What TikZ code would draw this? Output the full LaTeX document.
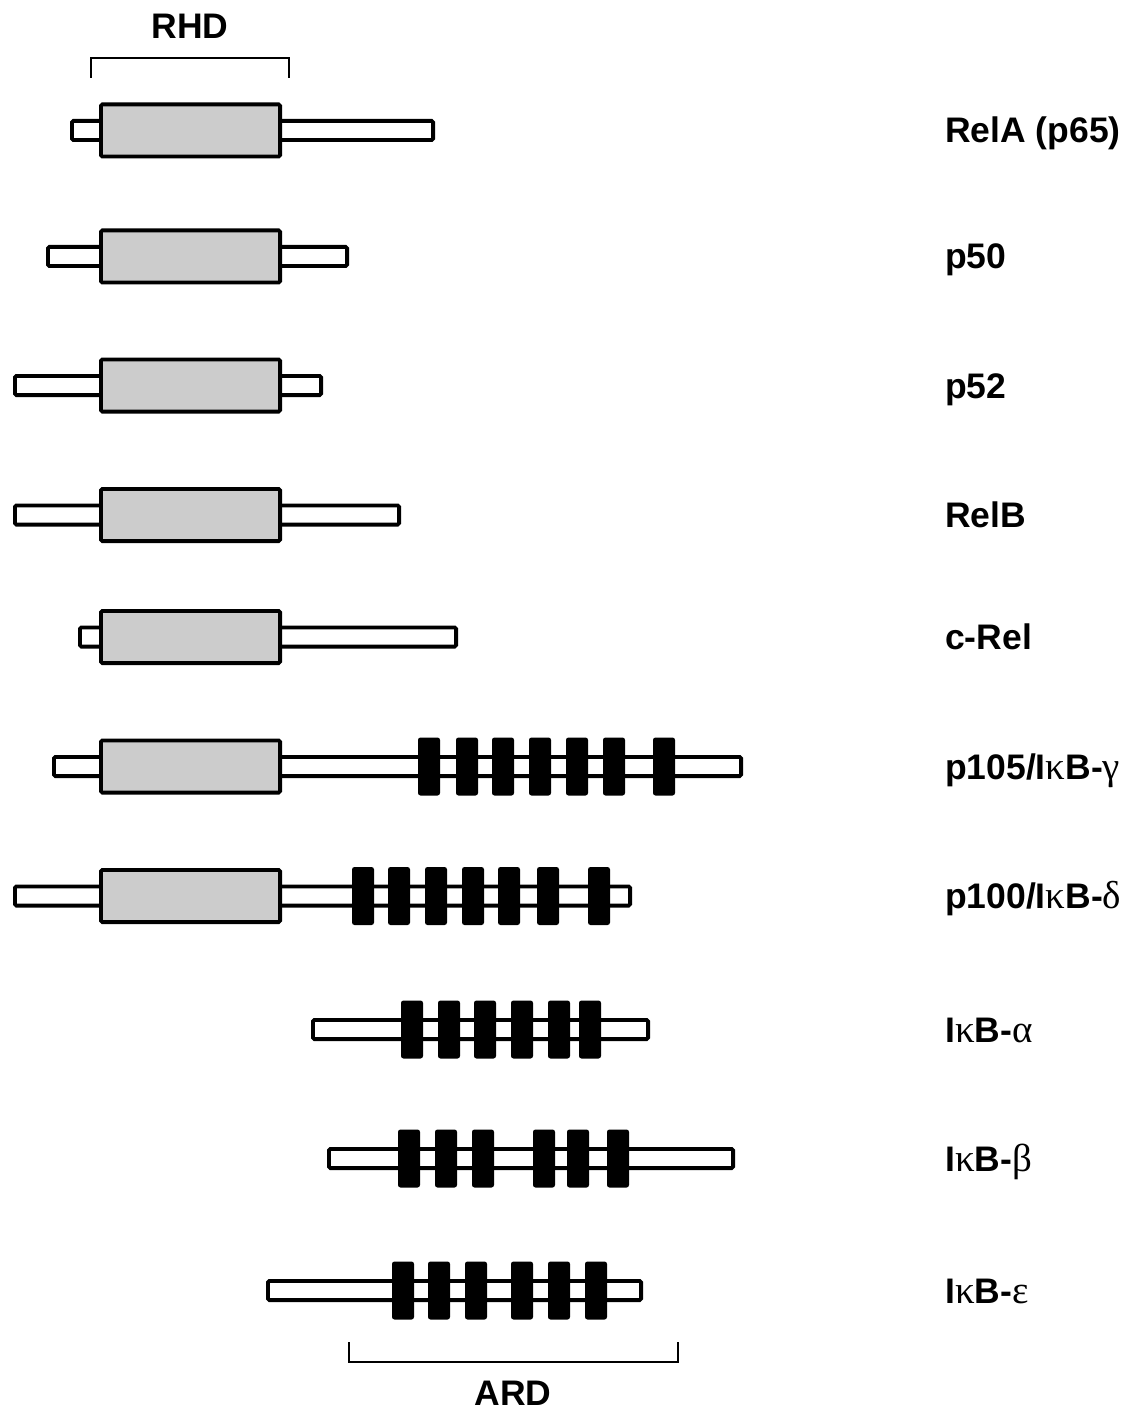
\documentclass[tikz,border=0pt]{standalone}
\usepackage{fontspec}
\setmainfont{Liberation Sans}
\newfontfamily\grk{Liberation Serif}
\definecolor{rhdgrey}{HTML}{CCCCCC}
\newcommand\gk[1]{{\fontsize{39}{40}\selectfont\grk\mdseries #1}}
\newcommand\protbar[3]{\draw[thinbar] ({#1+1.9},{#3-9.6}) rectangle ({#2-1.9},{#3+9.6});}
\newcommand\rhdbox[1]{\draw[rhdsty] (100.9,{#1-26.1}) rectangle (280.1,{#1+26.1});}
\newcommand\ankblk[2]{\fill[ank] ({#1},{#2-29}) rectangle ({#1+22},{#2+29});}
\begin{document}
\begin{tikzpicture}[x=1pt,y=-1pt,
  thinbar/.style={draw=black, line width=3.8pt, fill=white, rounded corners=1.5pt},
  rhdsty/.style={draw=black, line width=3.8pt, fill=rhdgrey, rounded corners=1.5pt},
  ank/.style={fill=black, rounded corners=2.5pt},
  brack/.style={draw=black, line width=2.5pt},
  lbl/.style={anchor=base west, inner sep=0pt, font=\fontsize{35.5}{40}\selectfont\bfseries},
  dom/.style={anchor=base, inner sep=0pt, font=\fontsize{35.5}{40}\selectfont\bfseries}]
\useasboundingbox (0,0) rectangle (1131,1412);
% RHD bracket
\coordinate (rhdL) at (91,78);
\coordinate (rhdR) at (289,78);
\draw[brack] (rhdL) -- (91,58) -- (289,58) -- (rhdR);
\node[dom] (rhdlab) at (190,39) {RHD};
% RelA
\protbar{70}{435}{130.5}\rhdbox{130.5}
\node[lbl] (relA) at (945,143) {RelA (p65)};
% p50
\protbar{46}{349}{256.5}\rhdbox{256.5}
\node[lbl] (p50) at (945,269) {p50};
% p52
\protbar{13}{323}{385.5}\rhdbox{385.5}
\node[lbl] (p52) at (945,398) {p52};
% RelB
\protbar{13}{401}{515}\rhdbox{515}
\node[lbl] (relB) at (945,527.5) {RelB};
% c-Rel
\protbar{78}{458}{637}\rhdbox{637}
\node[lbl] (cRel) at (945,649.5) {c-Rel};
% p105
\protbar{52}{743}{766.5}\rhdbox{766.5}
\foreach \xx in {418,456,492,529,566,603,653} {\ankblk{\xx}{766.5}}
\node[lbl] (p105) at (945,779) {p105/I\gk{κ}B-\gk{γ}};
% p100
\protbar{13}{632}{896}\rhdbox{896}
\foreach \xx in {352,388,425,462,498,537,588} {\ankblk{\xx}{896}}
\node[lbl] (p100) at (945,908.5) {p100/I\gk{κ}B-\gk{δ}};
% IkB-alpha
\protbar{311}{650}{1029.5}
\foreach \xx in {401,438,474,511,548,579} {\ankblk{\xx}{1029.5}}
\node[lbl] (ikba) at (945,1042) {I\gk{κ}B-\gk{α}};
% IkB-beta
\protbar{327}{735}{1158.5}
\foreach \xx in {398,435,472,533,567,607} {\ankblk{\xx}{1158.5}}
\node[lbl] (ikbb) at (945,1171) {I\gk{κ}B-\gk{β}};
% IkB-epsilon
\protbar{266}{643}{1290.5}
\foreach \xx in {392,428,465,511,548,585} {\ankblk{\xx}{1290.5}}
\node[lbl] (ikbe) at (945,1303) {I\gk{κ}B-\gk{ε}};
% ARD bracket
\coordinate (ardL) at (349,1342);
\coordinate (ardR) at (678,1342);
\draw[brack] (ardL) -- (349,1362) -- (678,1362) -- (ardR);
\node[dom] (ardlab) at (513,1405) {ARD};
\end{tikzpicture}
\end{document}
